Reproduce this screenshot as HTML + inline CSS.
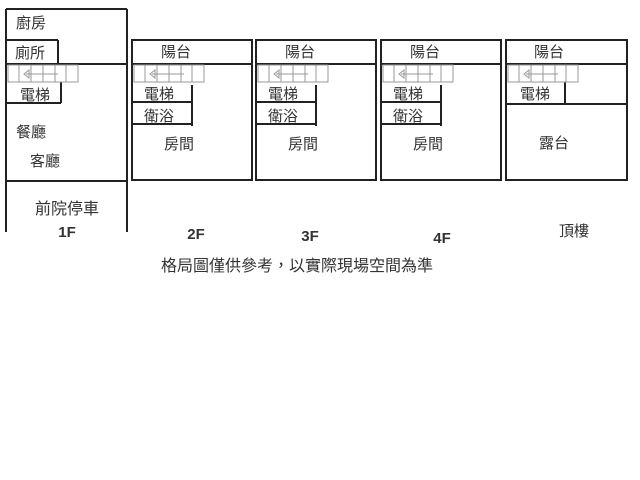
<!DOCTYPE html>
<html><head><meta charset="utf-8"><style>
html,body{margin:0;padding:0;background:#fff;width:640px;height:480px;overflow:hidden}
text{font-family:"Liberation Sans","Noto Sans CJK TC",sans-serif;fill:#333}
</style></head><body>
<svg width="640" height="480" viewBox="0 0 640 480" xmlns="http://www.w3.org/2000/svg">
<defs>
<g id="st">
<rect x="0" y="0" width="70" height="17" fill="none" stroke="#999" stroke-width="1"/>
<line x1="11" y1="0" x2="11" y2="17" stroke="#999"/>
<line x1="23" y1="0" x2="23" y2="17" stroke="#999"/>
<line x1="35" y1="0" x2="35" y2="17" stroke="#999"/>
<line x1="47" y1="0" x2="47" y2="17" stroke="#999"/>
<line x1="58" y1="0" x2="58" y2="17" stroke="#999"/>
<line x1="18" y1="9" x2="50" y2="9" stroke="#999"/>
<path d="M16 9 L21 5 L21 13 Z" fill="none" stroke="#999"/>
</g>
<g id="fl">
<rect x="0" y="40" width="120" height="140" fill="none" stroke="#222" stroke-width="2"/>
<line x1="0" y1="64" x2="120" y2="64" stroke="#222" stroke-width="2"/>
<use href="#st" x="2" y="65"/>
<line x1="60" y1="85" x2="60" y2="126" stroke="#222" stroke-width="2"/>
<line x1="0" y1="102" x2="60" y2="102" stroke="#222" stroke-width="2"/>
<line x1="0" y1="124" x2="60" y2="124" stroke="#222" stroke-width="2"/>
<text x="44" y="57" font-size="15" text-anchor="middle">陽台</text>
<text x="27" y="99" font-size="15" text-anchor="middle">電梯</text>
<text x="27" y="121" font-size="15" text-anchor="middle">衛浴</text>
<text x="47" y="149" font-size="15" text-anchor="middle">房間</text>
</g>
</defs>
<g stroke="#222" stroke-width="2" fill="none">
<line x1="6" y1="9" x2="6" y2="232"/>
<line x1="127" y1="9" x2="127" y2="232"/>
<line x1="6" y1="9" x2="127" y2="9"/>
<line x1="6" y1="40" x2="58" y2="40"/>
<line x1="58" y1="40" x2="58" y2="64"/>
<line x1="6" y1="64" x2="127" y2="64"/>
<line x1="61" y1="82" x2="61" y2="103"/>
<line x1="6" y1="103" x2="61" y2="103"/>
<line x1="6" y1="181" x2="127" y2="181"/>
</g>
<use href="#st" x="8" y="65"/>
<text x="16" y="28" font-size="15">廚房</text>
<text x="15" y="58" font-size="15">廁所</text>
<text x="20" y="100" font-size="15">電梯</text>
<text x="16" y="137" font-size="15">餐廳</text>
<text x="30" y="166" font-size="15">客廳</text>
<text x="35" y="214" font-size="16">前院停車</text>
<text x="67" y="237" font-size="15" font-weight="bold" text-anchor="middle">1F</text>
<use href="#fl" x="132"/>
<use href="#fl" x="256"/>
<use href="#fl" x="381"/>
<g stroke="#222" stroke-width="2" fill="none">
<rect x="506" y="40" width="121" height="140"/>
<line x1="506" y1="64" x2="627" y2="64"/>
<line x1="565" y1="82" x2="565" y2="104"/>
<line x1="506" y1="104" x2="627" y2="104"/>
</g>
<use href="#st" x="508" y="65"/>
<text x="549" y="57" font-size="15" text-anchor="middle">陽台</text>
<text x="535" y="99" font-size="15" text-anchor="middle">電梯</text>
<text x="554" y="148" font-size="15" text-anchor="middle">露台</text>
<text x="196" y="239" font-size="15" font-weight="bold" text-anchor="middle">2F</text>
<text x="310" y="241" font-size="15" font-weight="bold" text-anchor="middle">3F</text>
<text x="442" y="243" font-size="15" font-weight="bold" text-anchor="middle">4F</text>
<text x="574" y="236" font-size="15" text-anchor="middle">頂樓</text>
<text x="297" y="271" font-size="16" text-anchor="middle">格局圖僅供參考，以實際現場空間為準</text>
</svg>
</body></html>
